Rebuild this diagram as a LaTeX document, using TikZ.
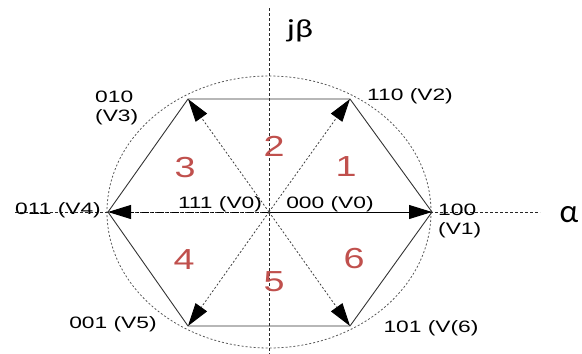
\documentclass[tikz,border=0pt]{standalone}
\usepackage{fontspec}
\usetikzlibrary{arrows.meta}
\newfontfamily\lblfont[FakeStretch=1.38]{Liberation Sans}
\newfontfamily\numfont[FakeStretch=1.3]{Liberation Sans}
\newfontfamily\axfont[FakeStretch=1.3]{Carlito}
\definecolor{secred}{RGB}{192,80,77}
\definecolor{axgray}{RGB}{40,40,40}
\tikzset{
  lbl/.style={inner sep=0pt, font=\lblfont\fontsize{16.5}{19.5}\selectfont, text=black},
  secnum/.style={inner sep=0pt, font=\numfont\fontsize{29}{30}\selectfont, text=secred},
  axlbl/.style={inner sep=0pt, font=\axfont\fontsize{26}{28}\selectfont, text=black},
  axisline/.style={draw=axgray, line width=0.9pt, dash pattern=on 3pt off 2pt},
  hexside/.style={draw=black!80, line width=0.9pt},
  vtip/.style={-{Triangle[length=23pt,width=14pt,black]}},
  vecsolid/.style={draw=black, line width=0.9pt, vtip},
  vecdot/.style={draw=black!75, line width=0.8pt, dash pattern=on 2pt off 2pt, vtip},
  vecdash/.style={draw=black, line width=0.9pt, dash pattern=on 7pt off 3pt on 2pt off 3pt, vtip},
  circ/.style={draw=black!65, line width=0.8pt, dash pattern=on 2pt off 2pt}
}
\begin{document}
\begin{tikzpicture}[x=1pt,y=-1pt]
\useasboundingbox (0,0) rectangle (582,354);
\coordinate (O) at (269,212);
\coordinate (V1) at (432,212);
\coordinate (V2) at (350,99);
\coordinate (V3) at (188,99);
\coordinate (V4) at (108,212);
\coordinate (V5) at (188,326);
\coordinate (V6) at (350,326);
\coordinate (ytop) at (269,8);
\coordinate (ybot) at (269,354);
\coordinate (xleft) at (15,212);
\coordinate (xright) at (540,212);
% circle
\draw[circ] (O) ellipse [x radius=162, y radius=136];
% axes
\draw[axisline] (ytop) -- (ybot);
\draw[axisline] (xleft) -- (xright);
% hexagon
\draw[hexside] (V1) -- (V2) -- (V3) -- (V4) -- (V5) -- (V6) -- cycle;
% vectors
\draw[vecsolid] (O) -- (V1);
\draw[vecdash] (O) -- (V4);
\draw[vecdot] (O) -- (V2);
\draw[vecdot] (O) -- (V3);
\draw[vecdot] (O) -- (V5);
\draw[vecdot] (O) -- (V6);
% labels
\node[axlbl] (jb) at (300,31) {jβ};
\node[inner sep=0pt, font=\fontspec{Carlito}\fontsize{33}{34}\selectfont] (al) at (569,215) {α};
\node[lbl] (l111) at (220,204) {111 (V0)};
\node[lbl] (l000) at (330,204) {000 (V0)};
\node[lbl] (l011) at (58,210) {011 (V4)};
\node[lbl, align=left, anchor=west] (l100) at (438,221) {100\\(V1)};
\node[lbl] (l101) at (431,328) {101 (V(6)};
\node[lbl] (l001) at (113,324) {001 (V5)};
\node[lbl, align=left, anchor=west] (l010) at (95,108) {010\\(V3)};
\node[lbl] (l110) at (410,96) {110 (V2)};
% sector numbers
\node[secnum] (s1) at (346,167) {1};
\node[secnum] (s2) at (274,146) {2};
\node[secnum] (s3) at (185,168) {3};
\node[secnum] (s4) at (184,260) {4};
\node[secnum] (s5) at (274,282) {5};
\node[secnum] (s6) at (354,259) {6};
\end{tikzpicture}
\end{document}
